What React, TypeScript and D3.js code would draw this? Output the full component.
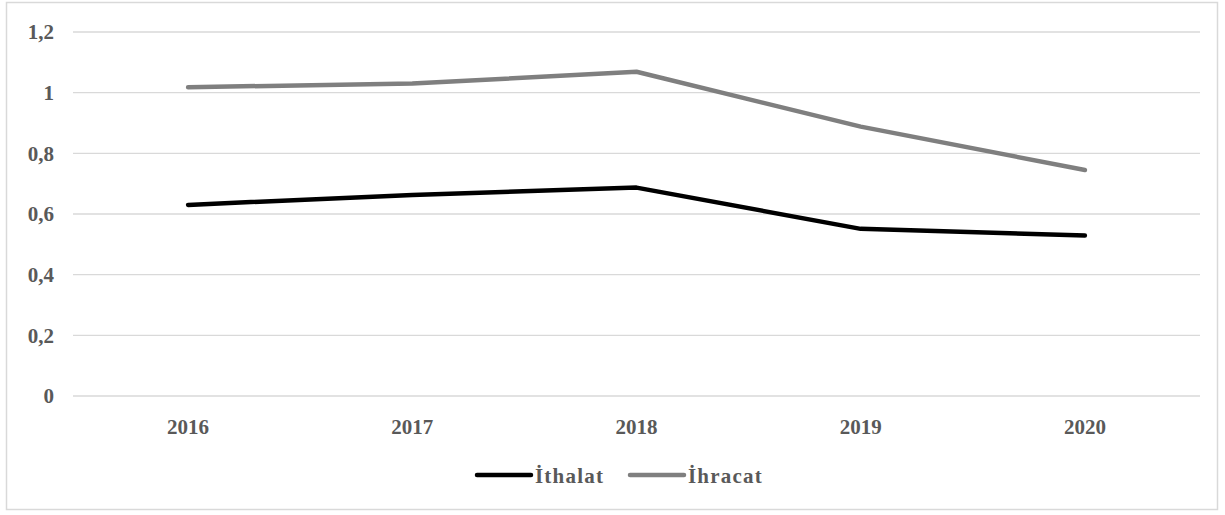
import React from "react";
import * as d3 from "d3";

const years = ["2016", "2017", "2018", "2019", "2020"];
const ithalat = [0.63, 0.663, 0.687, 0.551, 0.529];
const ihracat = [1.018, 1.03, 1.069, 0.888, 0.745];
const yTicks = [0, 0.2, 0.4, 0.6, 0.8, 1, 1.2];
const seriesNames = ["İthalat", "İhracat"];
const seriesColors = ["#000000", "#7f7f7f"];

export default function App() {
  const W = 1225, H = 515;
  const left = 73, right = 1200, top = 32, bottom = 396;
  const x = d3.scaleBand<string>().domain(years).range([left + 3, right - 3]);
  const y = d3.scaleLinear().domain([0, 1.2]).range([bottom, top]);
  const line = d3.line<number>().x((_, i) => (x(years[i]) as number) + x.bandwidth() / 2).y((d) => y(d));
  const fmt = (v: number) => String(+v.toFixed(1)).replace(".", ",");
  const font = "'Liberation Serif', 'Times New Roman', serif";
  const series = [ithalat, ihracat];
  const legendX = [477, 630];
  const fs = 21;
  return (
    <svg width={W} height={H} style={{ position: "absolute", left: 0, top: 0, background: "#fff" }}>
      <rect x={6.5} y={2.5} width={1211} height={507} fill="#fff" stroke="#d9d9d9" strokeWidth={1.5} />
      {yTicks.map((t) => (
        <g key={t}>
          <line x1={left} x2={right} y1={y(t)} y2={y(t)} stroke="#d9d9d9" strokeWidth={1.3} />
          <text x={54} y={y(t)} dy="0.35em" textAnchor="end" fontFamily={font} fontWeight="bold" fontSize={fs} fill="#595959">
            {fmt(t)}
          </text>
        </g>
      ))}
      {years.map((yr) => (
        <text key={yr} x={(x(yr) as number) + x.bandwidth() / 2} y={434} textAnchor="middle" fontFamily={font} fontWeight="bold" fontSize={fs} fill="#595959">
          {yr}
        </text>
      ))}
      {series.map((s, i) => (
        <path key={i} d={line(s) || ""} fill="none" stroke={seriesColors[i]} strokeWidth={4.5} strokeLinejoin="round" strokeLinecap="round" />
      ))}
      {seriesNames.map((n, i) => (
        <g key={n}>
          <line x1={legendX[i]} x2={legendX[i] + 54} y1={475} y2={475} stroke={seriesColors[i]} strokeWidth={4.5} strokeLinecap="round" />
          <text x={legendX[i] + 58} y={483} fontFamily={font} fontWeight="bold" fontSize={fs} fill="#595959" letterSpacing={1.2}>
            {n}
          </text>
        </g>
      ))}
    </svg>
  );
}
